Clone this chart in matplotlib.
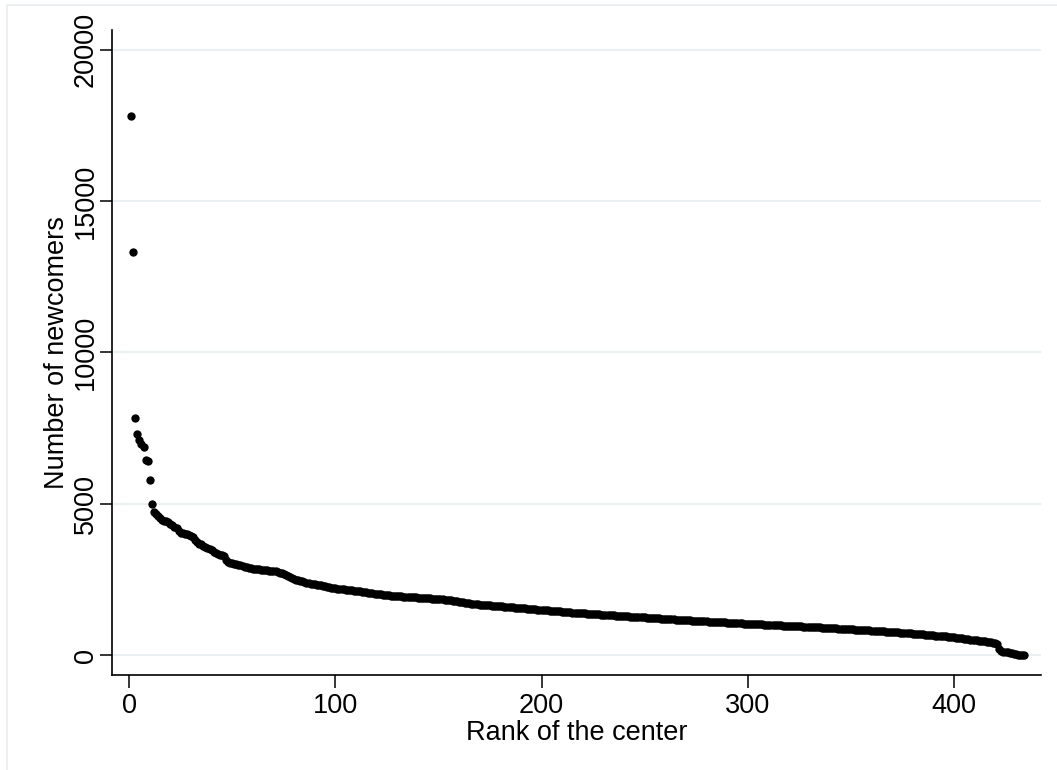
import numpy as np
import matplotlib
matplotlib.use("Agg")
import matplotlib.pyplot as plt
from matplotlib.patches import Rectangle

plt.rcParams['font.family'] = ['Liberation Sans', 'DejaVu Sans']

# Number of newcomers per center, sorted by rank (estimated from the figure)
newcomers_top = [17800, 13300, 7830, 7300, 7100, 6970, 6890, 6460, 6400, 5780,
                 5000, 4720, 4660, 4610, 4540, 4480, 4450, 4420, 4390, 4330,
                 4290, 4250, 4190, 4110, 4050, 4030, 4010, 3990, 3970, 3950,
                 3890, 3810, 3740, 3690, 3660, 3620, 3590, 3550, 3510, 3470,
                 3420, 3380, 3350, 3320, 3300, 3270, 3150, 3080, 3060, 3040,
                 3020, 3000, 2980, 2965, 2940, 2920, 2900, 2885, 2870, 2860,
                 2855, 2850, 2840, 2830, 2820, 2810, 2800, 2795, 2790, 2780,
                 2770, 2750, 2730, 2710, 2690, 2660, 2630, 2590, 2550, 2510,
                 2480, 2470, 2455, 2440, 2420, 2400, 2385, 2370, 2355, 2340,
                 2330, 2320, 2310, 2300, 2280, 2260, 2245, 2230, 2220, 2210,
                 2200, 2195, 2185, 2175, 2165, 2155, 2145, 2140, 2135, 2130]

newcomers_mid = [2120, 2110, 2100, 2090, 2080, 2070, 2060, 2050, 2040, 2030,
                 2020, 2010, 2000, 1990, 1985, 1975,
                 1970, 1965, 1960, 1955, 1950, 1945, 1940, 1935, 1930, 1925,
                 1920, 1915, 1910, 1905, 1900, 1895, 1890, 1885, 1880, 1876,
                 1872, 1869, 1867, 1866,
                 1858, 1850, 1840, 1830, 1820, 1810, 1800, 1790, 1780, 1770,
                 1760, 1750, 1740, 1730, 1720, 1710, 1700, 1690, 1682, 1675,
                 1668, 1662, 1656, 1651, 1647,
                 1642, 1636, 1630, 1624, 1618, 1612, 1606, 1600, 1594, 1588,
                 1582, 1576, 1570, 1564, 1558, 1552, 1546, 1540, 1535, 1530,
                 1524, 1518, 1511, 1505,
                 1500, 1494, 1488, 1482, 1476, 1470, 1464, 1458, 1452, 1446,
                 1440, 1434, 1428, 1422, 1416, 1410, 1404, 1398, 1393, 1388,
                 1384, 1380, 1376, 1373,
                 1368, 1363, 1358, 1354, 1350, 1345, 1340, 1336, 1332, 1327,
                 1322, 1318, 1313, 1308, 1304, 1299, 1294, 1290, 1285, 1280,
                 1276, 1272, 1267, 1263]

newcomers_low = [1258, 1253, 1249, 1244, 1240, 1235, 1230, 1226, 1222, 1217,
                 1212, 1208, 1203, 1198, 1194, 1189, 1184, 1180, 1175, 1170,
                 1166, 1162, 1157, 1153,
                 1149, 1145, 1141, 1137, 1133, 1129, 1126, 1122, 1118, 1114,
                 1110, 1106, 1102, 1098, 1094, 1091, 1087, 1083, 1079, 1075,
                 1071, 1067, 1063, 1059, 1055, 1051, 1048, 1044,
                 1041, 1038, 1034, 1031, 1028, 1024, 1021, 1017, 1014, 1010,
                 1007, 1003, 1000, 997, 993, 990, 986, 983, 979, 976,
                 972, 969, 965, 962, 958, 955, 951, 948, 945, 941,
                 938, 934,
                 930, 926, 922, 918, 914, 910, 906, 902, 898, 894,
                 890, 886, 882, 878, 874, 870, 866, 862, 858, 854,
                 850, 846, 842, 838, 834, 830, 826, 822, 818, 814,
                 810, 805, 800]

newcomers_tail = [795, 790, 785, 780, 775, 770, 765, 759, 754, 749,
                  744, 739, 733, 728, 722, 716, 711, 705, 700, 694,
                  688, 682, 676, 670, 664, 658, 652, 646, 640, 634,
                  630, 626,
                  618, 610, 601, 592, 583, 574, 565, 556, 547, 538,
                  529, 520, 511, 502, 493, 484, 475, 466, 457, 447,
                  438, 425, 412, 400, 388,
                  210, 150, 125, 110, 95, 80, 60, 45, 35, 25, 18, 10, 5]

newcomers = newcomers_top + newcomers_mid + newcomers_low + newcomers_tail
ranks = list(range(1, len(newcomers) + 1))

x_ticks = [0, 100, 200, 300, 400]
y_ticks = [0, 5000, 10000, 15000, 20000]
x_label = "Rank of the center"
y_label = "Number of newcomers"

FS = 19.5
W, H = 1057, 770
fig = plt.figure(figsize=(W / 100, H / 100), dpi=100)
fig.patch.set_facecolor('white')

# faint outer graph-region border
fig.patches.append(Rectangle((7 / W, -0.1), 1.2, 1.1 - 5 / H,
                             transform=fig.transFigure, fill=False,
                             edgecolor='#e9eef0', linewidth=1.2))

ax = fig.add_axes([112.3 / W, (H - 674.5) / H, (1041 - 112.3) / W, (674.5 - 30) / H])
ax.set_facecolor('white')

ax.plot(ranks, newcomers, 'o', color='black', markersize=6.0,
        markeredgewidth=0, zorder=3)

ax.set_xlim(-8.15, 442.2)
ax.set_ylim(-634, 20644)
ax.set_xticks(x_ticks)
ax.set_yticks(y_ticks)
ax.set_xticklabels([str(v) for v in x_ticks], fontsize=FS)
ax.set_yticklabels([str(v) for v in y_ticks], fontsize=FS,
                   rotation=90, va='center')

ax.grid(axis='y', color='#e8eef0', linewidth=1.3, zorder=0)
ax.set_axisbelow(True)

for side in ['top', 'right']:
    ax.spines[side].set_visible(False)
for side in ['left', 'bottom']:
    ax.spines[side].set_linewidth(1.2)
    ax.spines[side].set_color('black')

ax.tick_params(axis='both', direction='out', length=9, width=1.1,
               color='black', labelcolor='black')
ax.tick_params(axis='x', pad=4)
ax.tick_params(axis='y', pad=0.5)

ax.set_xlabel(x_label, fontsize=FS, labelpad=1)
ax.set_ylabel(y_label, fontsize=FS, labelpad=2)

fig.savefig('out.png', dpi=100, facecolor='white')
